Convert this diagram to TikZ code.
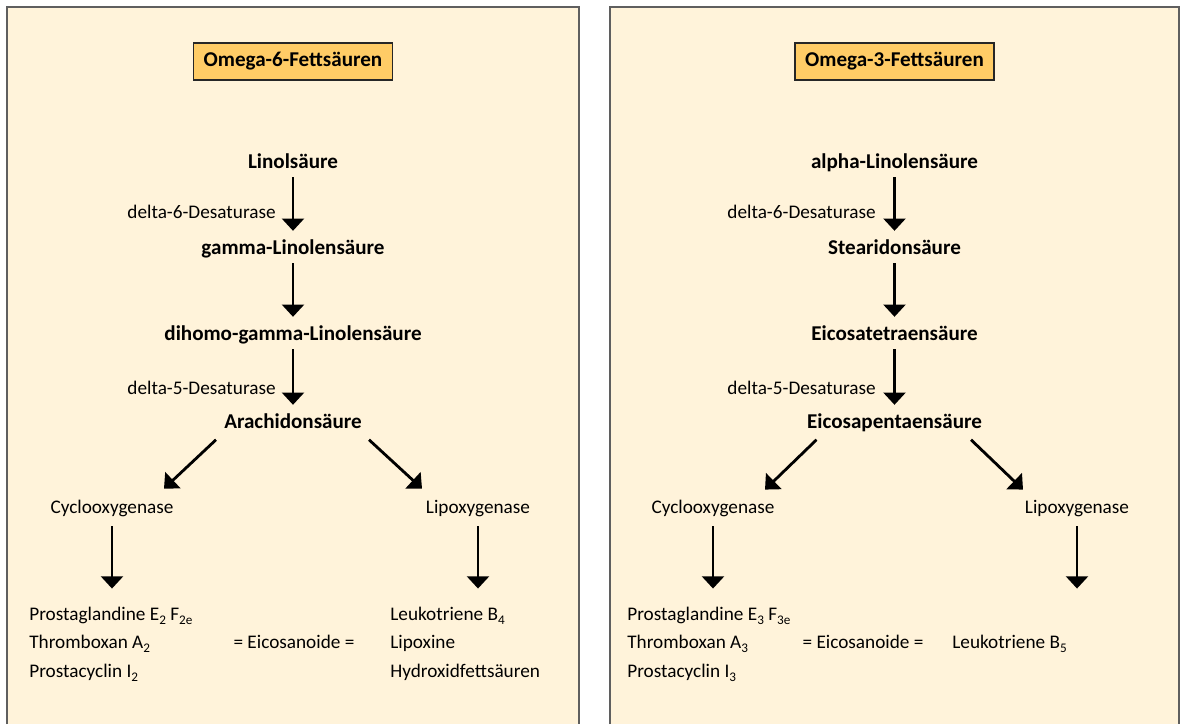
\documentclass[tikz,border=0pt,11pt]{standalone}
\usepackage{fontspec}
\setmainfont{Carlito}
\usetikzlibrary{arrows.meta}

\definecolor{creme}{RGB}{255,243,218}
\definecolor{titelgelb}{RGB}{255,204,102}
\definecolor{rahmen}{RGB}{95,95,95}

% tiefgestellte Indizes
\newcommand{\tief}[1]{\raisebox{-0.5ex}{\fontsize{7.5}{8}\selectfont #1}}

\begin{document}
\begin{tikzpicture}[x=0.02cm, y=-0.02cm,
    % Stile der Kaesten
    panel/.style={fill=creme},
    panelrand/.style={draw=rahmen, line width=1.1pt},
    titelbox/.style={draw=black!85, line width=0.8pt, fill=titelgelb,
        font=\fontsize{12}{14}\selectfont\bfseries,
        minimum width=3.98cm, minimum height=0.74cm, inner sep=0pt},
    % Stile fuer die Texte
    txt/.style={inner sep=0pt, text height=8pt, text depth=2.5pt},
    saeure/.style={txt, font=\fontsize{12}{14}\selectfont\bfseries, anchor=base},
    enzym/.style={txt, anchor=base},
    produkt/.style={txt, anchor=base west},
    % Pfeile
    pfeil/.style={line width=1.6pt, -{Triangle[length=7pt, width=12.5pt]}}
]
\useasboundingbox (0,0) rectangle (1186,724);

% --- OMEGA-6 ---
\fill[panel] (7,7) rectangle (579,724);
\draw[panelrand] (7,724) -- (7,7) -- (579,7) -- (579,724);
\node[titelbox] (titel6) at (293,61.5) {Omega-6-Fettsäuren};

\node[saeure] (la) at (293,168) {Linolsäure};
\node[saeure] (gla) at (293,254) {gamma-Linolensäure};
\node[saeure] (dgla) at (293,340) {dihomo-gamma-Linolensäure};
\node[saeure] (aa) at (293,428) {Arachidonsäure};
\node[enzym, anchor=base east] (d6a) at (276,218) {delta-6-Desaturase};
\node[enzym, anchor=base east] (d5a) at (276,394) {delta-5-Desaturase};
\node[enzym] (coxa) at (112,513) {Cyclooxygenase};
\node[enzym] (loxa) at (478,513) {Lipoxygenase};
\node[produkt] (pga) at (29,620) {Prostaglandine E\tief{2} F\tief{2e}};
\node[produkt] (txa) at (29,648) {Thromboxan A\tief{2}};
\node[produkt] (pca) at (29,677) {Prostacyclin I\tief{2}};
\node[enzym] (eia) at (294,648) {= Eicosanoide =};
\node[produkt] (lta) at (390,620) {Leukotriene B\tief{4}};
\node[produkt] (lxa) at (390,648) {Lipoxine};
\node[produkt] (hfa) at (390,677) {Hydroxidfettsäuren};

\draw[pfeil, shorten <=2.6pt, shorten >=5pt] (la) -- (gla);
\draw[pfeil, shorten <=2.6pt, shorten >=5pt] (gla) -- (dgla);
\draw[pfeil, shorten <=2.6pt, shorten >=5pt] (dgla) -- (aa);
\draw[pfeil] ([shift={(-77,7)}]aa.south) -- ([shift={(52,-10)}]coxa.north);
\draw[pfeil] ([shift={(76,7)}]aa.south) -- ([shift={(-56,-10)}]loxa.north);
\draw[pfeil, shorten <=4.9pt, shorten >=9.7pt] (coxa) -- (coxa |- pga.north);
\draw[pfeil, shorten <=4.9pt, shorten >=9.7pt] (loxa) -- (loxa |- lta.north);

% --- OMEGA-3 ---
\fill[panel] (610,7) rectangle (1179,724);
\draw[panelrand] (610,724) -- (610,7) -- (1179,7) -- (1179,724);
\node[titelbox] (titel3) at (894.5,61.5) {Omega-3-Fettsäuren};

\node[saeure] (ala) at (894.5,168) {alpha-Linolensäure};
\node[saeure] (sda) at (894.5,254) {Stearidonsäure};
\node[saeure] (eta) at (894.5,340) {Eicosatetraensäure};
\node[saeure] (epa) at (894.5,428) {Eicosapentaensäure};
\node[enzym, anchor=base east] (d6b) at (876,218) {delta-6-Desaturase};
\node[enzym, anchor=base east] (d5b) at (876,394) {delta-5-Desaturase};
\node[enzym] (coxb) at (713,513) {Cyclooxygenase};
\node[enzym] (loxb) at (1077,513) {Lipoxygenase};
\node[produkt] (pgb) at (627,620) {Prostaglandine E\tief{3} F\tief{3e}};
\node[produkt] (txb) at (627,648) {Thromboxan A\tief{3}};
\node[produkt] (pcb) at (627,677) {Prostacyclin I\tief{3}};
\node[enzym] (eib) at (863,648) {= Eicosanoide =};
\node[produkt] (ltb) at (952,648) {Leukotriene B\tief{5}};

\draw[pfeil, shorten <=2.6pt, shorten >=5pt] (ala) -- (sda);
\draw[pfeil, shorten <=2.6pt, shorten >=5pt] (sda) -- (eta);
\draw[pfeil, shorten <=2.6pt, shorten >=5pt] (eta) -- (epa);
\draw[pfeil] ([shift={(-78,7)}]epa.south) -- ([shift={(52,-9)}]coxb.north);
\draw[pfeil] ([shift={(76.5,7)}]epa.south) -- ([shift={(-54,-9)}]loxb.north);
\draw[pfeil, shorten <=4.9pt, shorten >=9.7pt] (coxb) -- (coxb |- pgb.north);
\draw[pfeil, shorten <=4.9pt, shorten >=9.7pt] (loxb) -- (loxb |- pgb.north);

\end{tikzpicture}
\end{document}
